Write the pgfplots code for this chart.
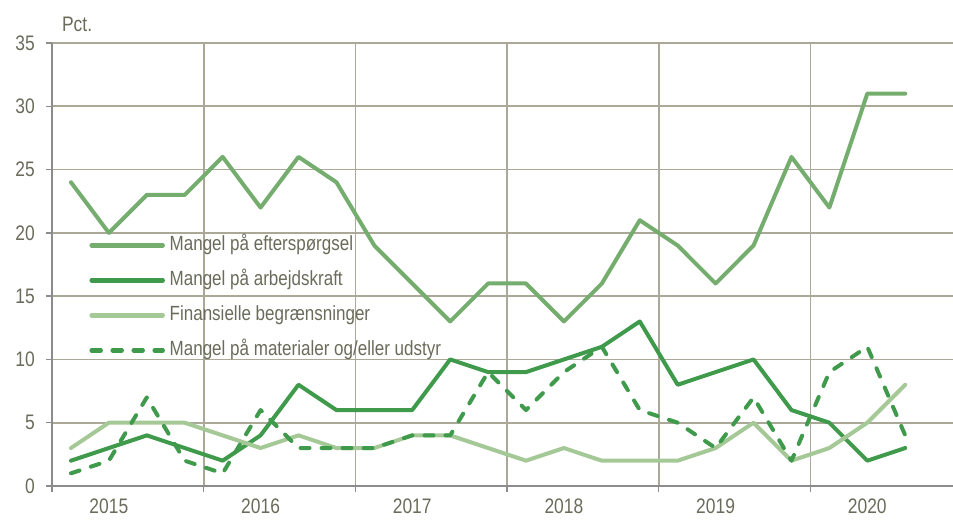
\documentclass[border=0pt]{standalone}
\usepackage{pgfplots}
\pgfplotsset{compat=1.18}
\usepackage{pgfplotstable}
\usepackage{fontspec}
\setmainfont[FakeStretch=0.83]{Liberation Sans}
\definecolor{cDem}{HTML}{74AD6E}
\definecolor{cLab}{HTML}{3F9A4B}
\definecolor{cFin}{HTML}{A5C996}
\definecolor{cTxt}{HTML}{6B6B5B}
\definecolor{cGrid}{HTML}{ABA898}
\definecolor{cAx}{HTML}{8C8C8C}
\pgfplotstableread{
x dem lab fin mat
0.5 24 2 3 1
1.5 20 3 5 2
2.5 23 4 5 7
3.5 23 3 5 2
4.5 26 2 4 1
5.5 22 4 3 6
6.5 26 8 4 3
7.5 24 6 3 3
8.5 19 6 3 3
9.5 16 6 4 4
10.5 13 10 4 4
11.5 16 9 3 9
12.5 16 9 2 6
13.5 13 10 3 9
14.5 16 11 2 11
15.5 21 13 2 6
16.5 19 8 2 5
17.5 16 9 3 3
18.5 19 10 5 7
19.5 26 6 2 2
20.5 22 5 3 9
21.5 31 2 5 11
22.5 31 3 8 4
}\data
\begin{document}
\fontsize{21}{24}\selectfont
\begin{tikzpicture}
\useasboundingbox (0,0) rectangle (953pt,520pt);
\begin{axis}[
 at={(52pt,34pt)}, anchor=south west, scale only axis,
 width=901pt, height=443pt,
 xmin=0, xmax=23.76, ymin=0, ymax=35,
 clip mode=individual,
 axis x line*=bottom, axis y line*=left,
 axis line style={cAx, line width=1.5pt, -},
 xtick={0,4,...,20}, xticklabels={},
 extra x ticks={1.5,5.5,9.5,13.5,17.5,21.5},
 extra x tick labels={2015,2016,2017,2018,2019,2020},
 extra x tick style={major tick length=0pt, grid=none, xticklabel style={inner sep=0pt, yshift=-13pt}},
 ytick={0,5,...,35},
 yticklabel style={xshift=-4pt},
 grid=major, major grid style={cGrid, line width=1.7pt},
 tick style={cAx, line width=1.5pt}, tick align=outside, major tick length=6pt,
 ticklabel style={font=\fontsize{21}{24}\selectfont, text=cTxt},
 /pgf/number format/assume math mode=true,
 legend style={at={(0.038,0.571)}, anchor=north west, draw=none, fill=none,
   font=\fontsize{20.5}{24}\selectfont, text=cTxt, row sep=15pt,
   nodes={inner sep=0pt, text height=15pt, text depth=5pt}},
 legend cell align=left,
 legend image code/.code={\draw[#1, line width=4.5pt] (0pt,0pt) -- (71pt,0pt); \path (76pt,0pt);},
 every axis plot/.append style={line width=4pt, line join=round, line cap=round},
]
\addplot[cDem, no marks] table[x=x, y=dem] {\data};
\addlegendentry{Mangel på efterspørgsel}
\addplot[cLab, no marks] table[x=x, y=lab] {\data};
\addlegendentry{Mangel på arbejdskraft}
\addplot[cFin, no marks] table[x=x, y=fin] {\data};
\addlegendentry{Finansielle begrænsninger}
\addplot[cLab, no marks, dash pattern=on 9pt off 12pt] table[x=x, y=mat] {\data};
\addlegendentry{Mangel på materialer og/eller udstyr}
\node[anchor=west, text=cTxt, font=\fontsize{21}{24}\selectfont, inner sep=0pt] at (rel axis cs:0.011,1.043) {Pct.};
\end{axis}
\end{tikzpicture}
\end{document}
